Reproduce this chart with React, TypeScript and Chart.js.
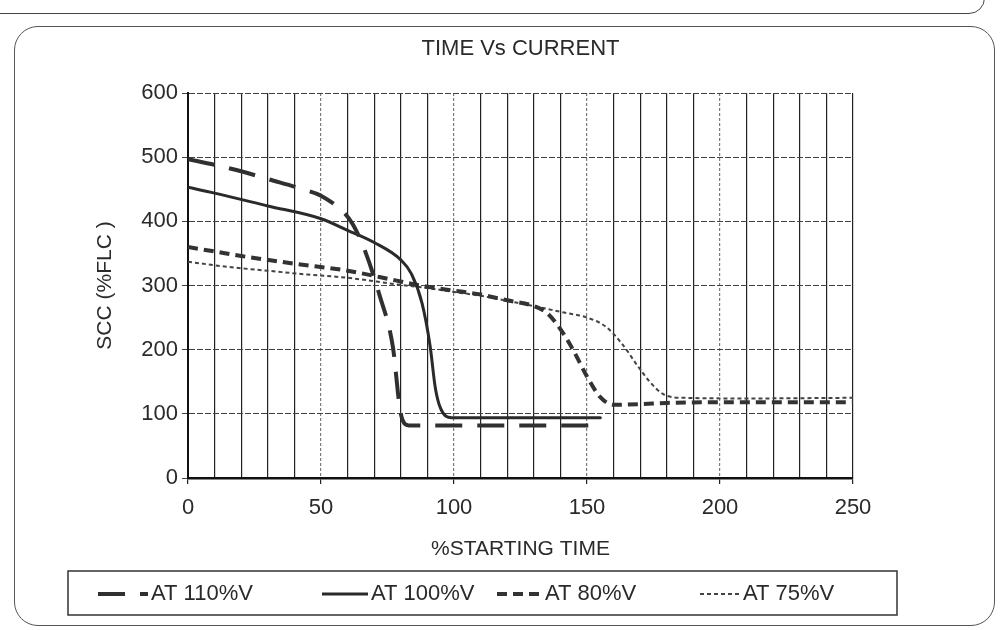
import React, { useEffect, useRef } from "react";
import { Chart, registerables } from "chart.js";

Chart.register(...registerables);

// ---------- text ----------
const chartTitle = "TIME Vs CURRENT";
const xAxisTitle = "%STARTING TIME";
const yAxisTitle = "SCC (%FLC )";
const seriesLabels = ["AT 110%V", "AT 100%V", "AT 80%V", "AT 75%V"];

// ---------- axes ----------
const xMin = 0;
const xMax = 250;
const xGridStep = 10;
const xLabelStep = 50;
const yMin = 0;
const yMax = 600;
const yStep = 100;

// ---------- data (% starting time vs SCC %FLC) ----------
const time110 = [0, 10, 20, 30, 44, 50, 59, 62, 66, 72, 77, 80, 83, 155];
const scc110 = [497, 488, 478, 466, 449, 440, 412, 395, 360, 285, 205, 100, 82, 82];

const time100 = [0, 10, 30, 50, 60, 70, 80, 84, 88, 91, 93, 95, 99, 155];
const scc100 = [453, 444, 424, 404, 386, 367, 340, 318, 272, 206, 140, 108, 94, 94];

const time80 = [0, 10, 20, 40, 60, 78, 90, 100, 110, 120, 130, 135, 140, 145, 150, 155, 160, 170, 180, 200, 250];
const scc80 = [360, 353, 346, 334, 323, 308, 298, 292, 286, 277, 268, 257, 232, 198, 158, 126, 114, 115, 117, 118, 118];

const time75 = [0, 15, 30, 45, 60, 78, 90, 100, 110, 120, 130, 140, 150, 157, 163, 169, 174, 179, 186, 210, 250];
const scc75 = [337, 329, 323, 317, 312, 302, 296, 290, 284, 276, 268, 259, 250, 236, 210, 175, 148, 130, 125, 124, 125];

const toPoints = (xs: number[], ys: number[]) => xs.map((x, i) => ({ x, y: ys[i] }));

const FONT = "'Liberation Sans', Arial, sans-serif";
const INK = "#2a2a2a";

// legend layout (pixel positions of each entry)
const legendBox = { left: 68, top: 571, right: 897, bottom: 615 };
const legendItemX = [98, 322, 497, 700];
const legendSampleLen = [50, 46, 45, 40];

const boxLegendPlugin = {
  id: "boxLegend",
  afterDraw(chart: any) {
    const ctx = chart.ctx as CanvasRenderingContext2D;
    ctx.save();
    ctx.strokeStyle = "#333";
    ctx.lineWidth = 1.5;
    ctx.setLineDash([]);
    ctx.strokeRect(
      legendBox.left,
      legendBox.top,
      legendBox.right - legendBox.left,
      legendBox.bottom - legendBox.top
    );
    const cy = (legendBox.top + legendBox.bottom) / 2 + 1;
    chart.data.datasets.forEach((ds: any, i: number) => {
      const x0 = legendItemX[i];
      const len = legendSampleLen[i];
      ctx.beginPath();
      ctx.strokeStyle = ds.borderColor;
      ctx.lineWidth = ds.borderWidth;
      ctx.lineCap = "butt";
      ctx.setLineDash(ds.borderDash || []);
      ctx.moveTo(x0, cy);
      ctx.lineTo(x0 + len, cy);
      ctx.stroke();
      ctx.setLineDash([]);
      ctx.fillStyle = INK;
      ctx.font = `22px ${FONT}`;
      ctx.textBaseline = "middle";
      ctx.textAlign = "left";
      ctx.fillText(ds.label, x0 + len + 3, cy);
    });
    ctx.restore();
  },
};

export default function App() {
  const canvasRef = useRef<HTMLCanvasElement | null>(null);

  useEffect(() => {
    document.body.style.margin = "0";
    document.body.style.background = "#ffffff";
    const canvas = canvasRef.current;
    if (!canvas) return;

    const chart = new Chart(canvas, {
      type: "line",
      data: {
        datasets: [
          {
            label: seriesLabels[0],
            data: toPoints(time110, scc110),
            borderColor: "#303030",
            borderWidth: 4,
            borderDash: [27, 15],
            borderCapStyle: "butt",
            cubicInterpolationMode: "monotone",
            pointRadius: 0,
            fill: false,
          },
          {
            label: seriesLabels[1],
            data: toPoints(time100, scc100),
            borderColor: "#2a2a2a",
            borderWidth: 3,
            borderDash: [],
            borderCapStyle: "round",
            cubicInterpolationMode: "monotone",
            pointRadius: 0,
            fill: false,
          },
          {
            label: seriesLabels[2],
            data: toPoints(time80, scc80),
            borderColor: "#333333",
            borderWidth: 4,
            borderDash: [10, 6],
            borderCapStyle: "butt",
            cubicInterpolationMode: "monotone",
            pointRadius: 0,
            fill: false,
          },
          {
            label: seriesLabels[3],
            data: toPoints(time75, scc75),
            borderColor: "#444444",
            borderWidth: 2,
            borderDash: [4, 3],
            borderCapStyle: "butt",
            cubicInterpolationMode: "monotone",
            pointRadius: 0,
            fill: false,
          },
        ],
      } as any,
      options: {
        responsive: false,
        animation: false,
        devicePixelRatio: 1,
        layout: { padding: { top: 22, left: 40, right: 148, bottom: 67 } },
        plugins: {
          legend: { display: false },
          tooltip: { enabled: false },
          title: {
            display: true,
            text: chartTitle,
            fullSize: false,
            color: INK,
            font: { family: FONT, size: 22, weight: "normal" },
            padding: { top: 14, bottom: 30.6 },
          },
        },
        scales: {
          x: {
            type: "linear",
            min: xMin,
            max: xMax,
            afterFit: (scale: any) => {
              scale.height = 85;
            },
            ticks: {
              stepSize: xGridStep,
              autoSkip: false,
              maxRotation: 0,
              padding: 11,
              color: INK,
              font: { family: FONT, size: 22 },
              callback: (v: any) => (Number(v) % xLabelStep === 0 ? String(v) : ""),
            },
            grid: {
              color: (c: any) => {
                const v = c.tick ? c.tick.value : 0;
                return v % xLabelStep === 0 && v !== xMin && v !== xMax ? "#7a7a7a" : "#222222";
              },
              lineWidth: 1.2,
              tickLength: 6,
              tickColor: (c: any) => {
                const v = c.tick ? c.tick.value : 0;
                return v % xLabelStep === 0 ? "#222" : "rgba(0,0,0,0)";
              },
            },
            border: {
              display: true,
              color: "#111",
              width: 2.5,
              dash: (c: any) => {
                const v = c.tick ? c.tick.value : 0;
                return v % xLabelStep === 0 && v !== xMin && v !== xMax ? [3, 2] : [];
              },
            },
            title: {
              display: true,
              text: xAxisTitle,
              color: INK,
              font: { family: FONT, size: 21 },
              padding: { top: 0, bottom: 1 },
            },
          },
          y: {
            type: "linear",
            min: yMin,
            max: yMax,
            afterFit: (scale: any) => {
              scale.width = 148;
            },
            ticks: {
              stepSize: yStep,
              padding: 4,
              color: INK,
              font: { family: FONT, size: 22 },
            },
            grid: {
              color: "#444444",
              lineWidth: 1,
              tickLength: 6,
            },
            border: {
              display: true,
              color: "#111",
              width: 2,
              dash: [6, 2],
            },
            title: {
              display: true,
              text: yAxisTitle,
              color: INK,
              font: { family: FONT, size: 21 },
              padding: { top: 53, bottom: 0 },
            },
          },
        },
      } as any,
      plugins: [boxLegendPlugin],
    });

    return () => {
      chart.destroy();
    };
  }, []);

  return (
    <div style={{ position: "relative", width: 1001, height: 630, overflow: "hidden", background: "#fff" }}>
      <canvas ref={canvasRef} width={1001} height={630} style={{ display: "block" }} />
      <div
        style={{
          position: "absolute",
          left: -20,
          top: -40,
          width: 1003,
          height: 52,
          border: "1.5px solid #444",
          borderRadius: 16,
          pointerEvents: "none",
        }}
      />
      <div
        style={{
          position: "absolute",
          left: 14,
          top: 26,
          width: 979,
          height: 598,
          border: "1.5px solid #555",
          borderRadius: 24,
          pointerEvents: "none",
        }}
      />
    </div>
  );
}
